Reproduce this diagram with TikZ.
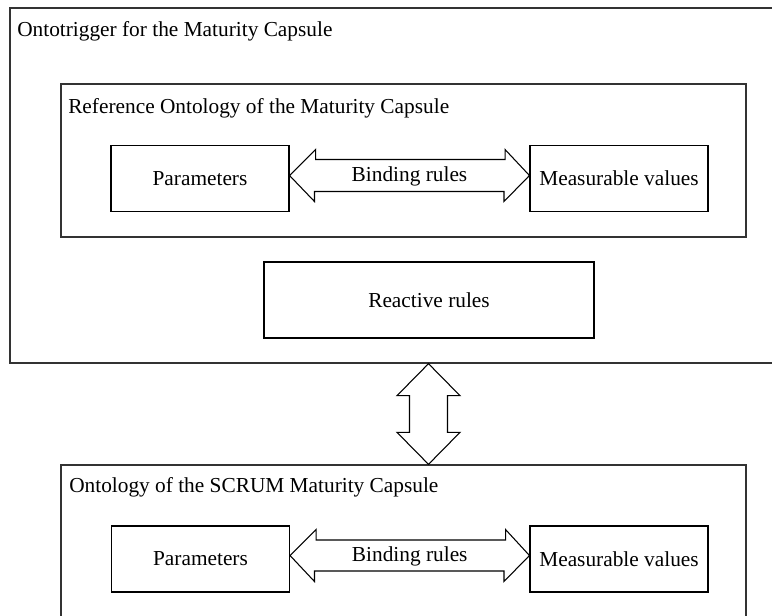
\documentclass[tikz,border=0pt]{standalone}
\usepackage{fontspec}
\setmainfont{Liberation Serif}
\usetikzlibrary{calc}
\begin{document}
\begin{tikzpicture}[x=0.75pt,y=-0.75pt,
  txt/.style={font=\fontsize{16pt}{19pt}\selectfont, inner sep=0pt},
  container/.style={draw=black!80, line width=1pt, inner sep=0pt},
  box/.style={draw=black, line width=0.8pt, inner sep=0pt, minimum width=133.5pt, minimum height=49.5pt, font=\fontsize{16pt}{19pt}\selectfont},
  blockarrow/.style={draw=black, line width=0.8pt, fill=white, line join=miter}
]
\useasboundingbox (0,0) rectangle (772,615);
\fill[white] (0,0) rectangle (772,615);

% containers
\node[container, minimum width=573.75pt, minimum height=266.25pt] (outer) at (392.5,185.5) {};
\node[container, minimum width=513.75pt, minimum height=114.75pt] (ref) at (403.5,160.5) {};
\node[container, minimum width=513.75pt, minimum height=131.25pt] (scrum) at (403.5,552.5) {};

% titles
\node[txt, anchor=base west] (t1) at (17,36.5) {Ontotrigger for the Maturity Capsule};
\node[txt, anchor=base west] (t2) at (68,113) {Reference Ontology of the Maturity Capsule};
\node[txt, anchor=base west] (t3) at (69,492) {Ontology of the SCRUM Maturity Capsule};

% boxes
\node[box] (p1) at (200,178.5) {Parameters};
\node[box] (m1) at (619,178.5) {Measurable values};
\node[box] (p2) at (200.5,559) {Parameters};
\node[box] (m2) at (619,559) {Measurable values};
\node[box, minimum width=247.5pt, minimum height=57pt] (react) at (429,300) {Reactive rules};

% binding arrows
\draw[blockarrow] ($(p1.east)+(0,-3)$) -- ++(26,-26) -- ++(0,10) -- ++(189.5,0) -- ++(0,-10) -- ($(m1.west)+(0,-3)$)
  -- ++(-25.5,26) -- ++(0,-10) -- ++(-189.5,0) -- ++(0,10) -- cycle;
\node[txt, anchor=base] (b1) at ($($(p1.east)!0.5!(m1.west)$)+(0,3)$) {Binding rules};

\draw[blockarrow] ($(p2.east)+(0,-3.5)$) -- ++(26,-26) -- ++(0,10.5) -- ++(189.5,0) -- ++(0,-10.5) -- ($(m2.west)+(0,-3.5)$)
  -- ++(-25.5,26) -- ++(0,-10.5) -- ++(-189.5,0) -- ++(0,10.5) -- cycle;
\node[txt, anchor=base] (b2) at ($($(p2.east)!0.5!(m2.west)$)+(0,2.5)$) {Binding rules};

% vertical arrow between containers
\coordinate (vt) at (428.5,0 |- outer.south);
\coordinate (vb) at (428.5,0 |- scrum.north);
\draw[blockarrow] (vt) -- ++(31.5,32) -- ++(-12.5,0) -- ($(vb)+(19,-32)$) -- ++(12.5,0) -- (vb)
  -- ++(-31.5,-32) -- ++(12.5,0) -- ($(vt)+(-19,32)$) -- ++(-12.5,0) -- cycle;
\end{tikzpicture}
\end{document}
